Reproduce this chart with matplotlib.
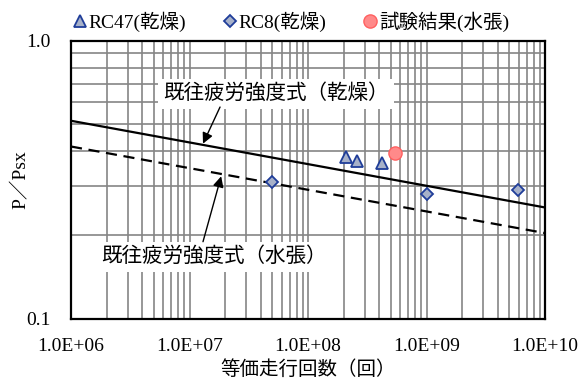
import matplotlib
matplotlib.use('Agg')
import matplotlib.pyplot as plt
from matplotlib.lines import Line2D
from matplotlib.ticker import LogLocator, NullFormatter, FixedLocator, FixedFormatter

plt.rcParams['font.family'] = ['Liberation Serif', 'Noto Sans CJK JP']
plt.rcParams['font.size'] = 14

# 既往疲労強度式 (両端の値)
n_line = [1e6, 1e10]
p_dry = [0.515, 0.251]
p_wet = [0.416, 0.203]

# 実験データ
n_rc47 = [2.09e8, 2.58e8, 4.21e8]
p_rc47 = [0.380, 0.370, 0.362]
n_rc8 = [5.0e7, 1.0e9, 5.95e9]
p_rc8 = [0.309, 0.281, 0.290]
n_test = [5.39e8]
p_test = [0.395]

xticks = [1e6, 1e7, 1e8, 1e9, 1e10]
xtick_labels = ['1.0E+06', '1.0E+07', '1.0E+08', '1.0E+09', '1.0E+10']
yticks = [0.1, 1.0]
ytick_labels = ['0.1', '1.0']

navy = '#1f3d99'
gray_fill = '#a7b1c9'

fig = plt.figure(figsize=(5.84, 3.80), dpi=100)
ax = fig.add_axes([71 / 584, 1 - 318.5 / 380, 474 / 584, 277.8 / 380])
ax.set_xscale('log')
ax.set_yscale('log')
ax.set_xlim(1e6, 1e10)
ax.set_ylim(0.1, 1.0)

ax.xaxis.set_major_locator(FixedLocator(xticks))
ax.xaxis.set_major_formatter(FixedFormatter(xtick_labels))
ax.xaxis.set_minor_locator(LogLocator(base=10, subs=range(2, 10), numticks=20))
ax.xaxis.set_minor_formatter(NullFormatter())
ax.yaxis.set_major_locator(FixedLocator(yticks))
ax.yaxis.set_major_formatter(FixedFormatter(ytick_labels))
ax.yaxis.set_minor_locator(LogLocator(base=10, subs=range(2, 10), numticks=20))
ax.yaxis.set_minor_formatter(NullFormatter())

ax.grid(which='both', color='#858585', lw=1.2)
ax.set_axisbelow(True)
ax.tick_params(which='both', length=0)
ax.tick_params(axis='x', pad=14)
ax.tick_params(axis='y', pad=15)
for s in ax.spines.values():
    s.set_linewidth(1.6)
    s.set_color('black')

ax.plot(n_line, p_dry, color='black', lw=1.6, zorder=3)
ax.plot(n_line, p_wet, color='black', lw=1.6, ls=(0, (5, 3)), zorder=3)

ax.plot(n_rc47, p_rc47, ls='none', marker='^', ms=8.5, mfc=gray_fill, mec=navy, mew=1.3, zorder=4)
ax.plot(n_rc8, p_rc8, ls='none', marker='D', ms=6.5, mfc=gray_fill, mec=navy, mew=1.3, zorder=4)
ax.plot(n_test, p_test, ls='none', marker='o', ms=9.5, mfc='#ff8a8a', mec='#ff6060', mew=1.0, zorder=4)

# 注記
box = dict(boxstyle='square,pad=0.25', fc='white', ec='none')
ax.text(5.97e6, 0.645, '既往疲労強度式（乾燥）', ha='left', va='center', bbox=box,
        fontsize=14.8, zorder=5)
ax.text(1.79e6, 0.166, '既往疲労強度式（水張）', ha='left', va='center', bbox=box,
        fontsize=14.8, zorder=5)
arrow = dict(arrowstyle='-|>', color='black', lw=1.0, mutation_scale=16, shrinkA=0, shrinkB=0)
ax.annotate('', xy=(1.30e7, 0.426), xytext=(1.81e7, 0.577), arrowprops=arrow, zorder=6)
ax.annotate('', xy=(1.85e7, 0.325), xytext=(1.30e7, 0.189), arrowprops=arrow, zorder=6)

ax.set_xlabel('等価走行回数（回）', labelpad=4)
ax.set_ylabel('P／Psx')
ax.yaxis.set_label_coords(-0.088, 0.5)

handles = [
    Line2D([], [], ls='none', marker='^', ms=8.5, mfc=gray_fill, mec=navy, mew=1.3),
    Line2D([], [], ls='none', marker='D', ms=6.5, mfc=gray_fill, mec=navy, mew=1.3),
    Line2D([], [], ls='none', marker='o', ms=9.5, mfc='#ff8a8a', mec='#ff6060', mew=1.0),
]
ax.legend(handles, ['RC47(乾燥)', 'RC8(乾燥)', '試験結果(水張)'], loc='lower left',
          bbox_to_anchor=(-0.012, 1.0), ncol=3, frameon=False, handlelength=0.6,
          handletextpad=0.15, columnspacing=1.95, borderaxespad=0.25, borderpad=0.2)

fig.savefig('out.png', dpi=100)
